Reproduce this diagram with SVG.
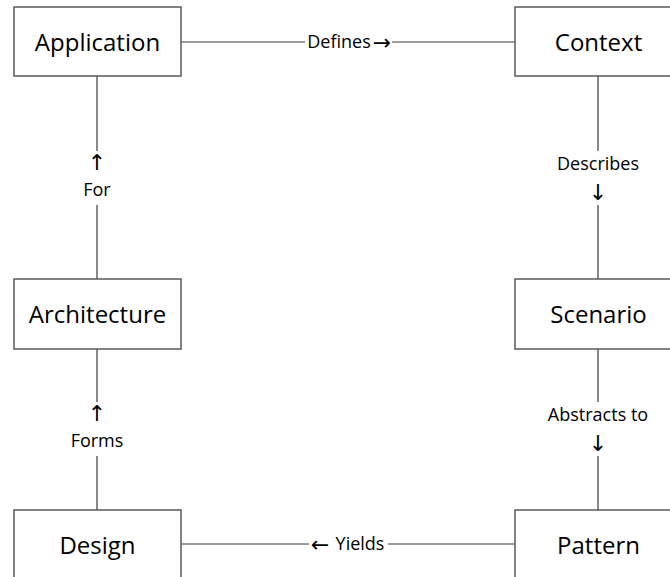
<svg xmlns="http://www.w3.org/2000/svg" width="670" height="577" viewBox="0 0 670 577">
<style>
.box{fill:#fff;stroke:#5a5a5a;stroke-width:1.5}
.edge{stroke:#3a3a3a;stroke-width:1.2;fill:none}
.nt{font-family:"Open Sans","Liberation Sans",sans-serif;font-size:24px;fill:#000;text-anchor:middle;dominant-baseline:central}
.lt{font-family:"Open Sans","Liberation Sans","DejaVu Sans",sans-serif;font-size:18px;fill:#000;text-anchor:middle;dominant-baseline:central}
.ar{font-family:"DejaVu Sans",sans-serif;font-size:22px;fill:#000;text-anchor:middle;dominant-baseline:central}
.bg{fill:#fff}
</style>
<rect width="670" height="577" fill="#fff"/>
<g id="connectors">
<g id="e-defines">
<line class="edge" x1="181" y1="42" x2="515" y2="42"/>
<rect class="bg" x="305" y="31" width="87" height="22"/>
<text class="lt" x="339" y="41">Defines</text>
<text class="ar" x="382" y="42">→</text>
</g>
<g id="e-describes">
<line class="edge" x1="598" y1="76" x2="598" y2="279"/>
<rect class="bg" x="553" y="151" width="92" height="54"/>
<text class="lt" x="598" y="163">Describes</text>
<text class="ar" x="598" y="192">↓</text>
</g>
<g id="e-for">
<line class="edge" x1="97" y1="76" x2="97" y2="279"/>
<rect class="bg" x="80" y="151" width="34" height="54"/>
<text class="ar" x="97" y="162">↑</text>
<text class="lt" x="97" y="189">For</text>
</g>
<g id="e-forms">
<line class="edge" x1="97" y1="349" x2="97" y2="510"/>
<rect class="bg" x="66" y="402" width="62" height="54"/>
<text class="ar" x="97" y="413">↑</text>
<text class="lt" x="97" y="440">Forms</text>
</g>
<g id="e-abstracts">
<line class="edge" x1="598" y1="349" x2="598" y2="510"/>
<rect class="bg" x="541" y="402" width="114" height="54"/>
<text class="lt" x="598" y="414">Abstracts to</text>
<text class="ar" x="598" y="443">↓</text>
</g>
<g id="e-yields">
<line class="edge" x1="181" y1="544" x2="515" y2="544"/>
<rect class="bg" x="309" y="533" width="79" height="22"/>
<text class="ar" x="320" y="544">←</text>
<text class="lt" x="360" y="543">Yields</text>
</g>
</g>
<g id="application"><rect class="box" x="14" y="7" width="167" height="69"/><text class="nt" x="97.5" y="41">Application</text></g>
<g id="context"><rect class="box" x="515" y="7" width="170" height="69"/><text class="nt" x="598.5" y="41">Context</text></g>
<g id="architecture"><rect class="box" x="14" y="279" width="167" height="70"/><text class="nt" x="97.5" y="313">Architecture</text></g>
<g id="scenario"><rect class="box" x="515" y="279" width="170" height="70"/><text class="nt" x="598.5" y="313">Scenario</text></g>
<g id="design"><rect class="box" x="14" y="510" width="167" height="80"/><text class="nt" x="97.5" y="544">Design</text></g>
<g id="pattern"><rect class="box" x="515" y="510" width="170" height="80"/><text class="nt" x="598.5" y="544">Pattern</text></g>
</svg>
